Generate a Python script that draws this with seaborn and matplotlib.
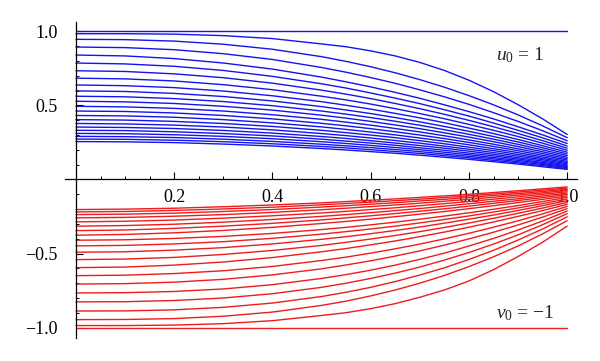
import numpy as np
import pandas as pd
import matplotlib
matplotlib.use("Agg")
import matplotlib.pyplot as plt
import seaborn as sns
from matplotlib.ticker import MultipleLocator, FixedLocator

# x positions where each curve was read
x_grid = [0.0, 0.1, 0.2, 0.3, 0.4, 0.5, 0.55, 0.6, 0.65, 0.7, 0.75, 0.8, 0.85, 0.9, 0.95, 1.0]

# blue family (u): one list per x position, curves top -> bottom (first = constant 1)
u_x000 = [1, .984, .946, .894, .840, .786, .734, .684, .638, .598, .562, .528, .494, .462, .432, .404, .378, .354, .332, .311, .291, .273, .256]
u_x010 = [1, .984, .944, .890, .834, .780, .729, .679, .633, .594, .558, .524, .490, .459, .429, .401, .375, .351, .330, .309, .289, .271, .254]
u_x020 = [1, .981, .934, .876, .816, .764, .713, .665, .620, .581, .546, .513, .480, .449, .420, .392, .367, .344, .322, .302, .283, .265, .249]
u_x030 = [1, .971, .913, .849, .786, .736, .687, .640, .597, .560, .526, .494, .462, .432, .404, .378, .354, .331, .310, .291, .272, .255, .239]
u_x040 = [1, .951, .879, .810, .745, .696, .650, .606, .565, .530, .498, .468, .437, .409, .382, .358, .335, .313, .294, .275, .257, .241, .226]
u_x050 = [1, .915, .829, .756, .691, .646, .603, .562, .525, .492, .462, .434, .406, .379, .355, .332, .310, .290, .272, .255, .238, .223, .209]
u_x055 = [1, .896, .797, .724, .659, .617, .576, .537, .501, .469, .441, .414, .387, .362, .338, .316, .296, .277, .259, .243, .227, .213, .199]
u_x060 = [1, .868, .761, .688, .625, .584, .546, .509, .475, .445, .418, .392, .367, .343, .320, .300, .280, .262, .246, .230, .215, .201, .188]
u_x065 = [1, .834, .720, .649, .588, .549, .513, .478, .446, .418, .393, .368, .344, .322, .301, .282, .263, .246, .231, .216, .202, .189, .177]
u_x070 = [1, .790, .674, .605, .548, .512, .478, .445, .416, .389, .366, .343, .321, .300, .280, .262, .245, .229, .214, .201, .188, .176, .164]
u_x075 = [1, .736, .623, .558, .504, .471, .440, .410, .383, .358, .336, .315, .295, .276, .258, .241, .225, .211, .197, .184, .172, .161, .150]
u_x080 = [1, .670, .566, .507, .458, .428, .399, .372, .347, .325, .305, .286, .267, .250, .234, .218, .204, .191, .178, .167, .156, .146, .136]
u_x085 = [1, .593, .504, .451, .409, .381, .356, .332, .310, .290, .272, .255, .238, .223, .208, .195, .182, .170, .159, .148, .139, .129, .120]
u_x090 = [1, .505, .436, .392, .356, .332, .310, .290, .270, .253, .237, .222, .207, .194, .181, .169, .158, .147, .138, .129, .120, .112, .104]
u_x095 = [1, .409, .362, .329, .301, .281, .262, .245, .228, .214, .200, .187, .175, .163, .152, .142, .133, .124, .115, .108, .101, .093, .086]
u_x100 = [1, .304, .282, .261, .243, .226, .211, .197, .184, .172, .161, .150, .140, .131, .122, .114, .106, .099, .092, .086, .080, .074, .068]

# red family (v): curves top -> bottom (last = constant -1)
v_x000 = [-.203, -.219, -.237, -.259, -.286, -.315, -.345, -.376, -.410, -.448, -.491, -.541, -.595, -.649, -.706, -.766, -.826, -.888, -.946, -.986, -1]
v_x010 = [-.200, -.216, -.234, -.256, -.282, -.311, -.341, -.371, -.407, -.445, -.488, -.537, -.591, -.646, -.703, -.764, -.825, -.887, -.945, -.986, -1]
v_x020 = [-.194, -.209, -.227, -.248, -.274, -.302, -.330, -.360, -.398, -.435, -.477, -.526, -.578, -.635, -.693, -.756, -.817, -.880, -.939, -.983, -1]
v_x030 = [-.184, -.199, -.216, -.237, -.261, -.288, -.315, -.344, -.384, -.420, -.460, -.506, -.557, -.616, -.674, -.739, -.800, -.863, -.923, -.973, -1]
v_x040 = [-.172, -.187, -.203, -.222, -.245, -.270, -.296, -.323, -.364, -.397, -.435, -.479, -.527, -.587, -.644, -.710, -.771, -.834, -.895, -.953, -1]
v_x050 = [-.158, -.171, -.186, -.204, -.226, -.249, -.273, -.297, -.338, -.369, -.404, -.445, -.488, -.547, -.603, -.668, -.728, -.790, -.850, -.918, -1]
v_x055 = [-.149, -.162, -.177, -.194, -.215, -.237, -.259, -.283, -.323, -.352, -.386, -.424, -.466, -.524, -.577, -.642, -.700, -.761, -.821, -.899, -1]
v_x060 = [-.140, -.153, -.167, -.183, -.203, -.224, -.245, -.268, -.306, -.334, -.366, -.402, -.441, -.497, -.549, -.612, -.668, -.728, -.786, -.872, -1]
v_x065 = [-.131, -.143, -.157, -.172, -.191, -.210, -.230, -.251, -.288, -.315, -.344, -.378, -.415, -.468, -.517, -.578, -.632, -.689, -.746, -.838, -1]
v_x070 = [-.121, -.133, -.145, -.160, -.177, -.196, -.214, -.234, -.268, -.293, -.321, -.352, -.386, -.436, -.482, -.539, -.591, -.645, -.700, -.795, -1]
v_x075 = [-.111, -.122, -.134, -.147, -.163, -.180, -.198, -.216, -.247, -.270, -.295, -.324, -.355, -.401, -.443, -.497, -.544, -.596, -.648, -.746, -1]
v_x080 = [-.100, -.110, -.121, -.134, -.149, -.164, -.180, -.197, -.225, -.246, -.268, -.294, -.322, -.363, -.401, -.449, -.493, -.540, -.588, -.685, -1]
v_x085 = [-.088, -.098, -.108, -.120, -.133, -.147, -.161, -.177, -.201, -.220, -.240, -.262, -.287, -.322, -.356, -.398, -.436, -.478, -.522, -.609, -1]
v_x090 = [-.076, -.085, -.095, -.105, -.117, -.130, -.142, -.156, -.176, -.192, -.209, -.228, -.249, -.279, -.307, -.341, -.374, -.409, -.449, -.520, -1]
v_x095 = [-.063, -.072, -.081, -.090, -.100, -.111, -.122, -.134, -.149, -.163, -.177, -.193, -.210, -.232, -.254, -.280, -.305, -.334, -.367, -.423, -1]
v_x100 = [-.050, -.058, -.066, -.074, -.083, -.092, -.101, -.111, -.121, -.132, -.143, -.155, -.168, -.182, -.197, -.213, -.231, -.252, -.278, -.315, -1]

x_ticks = [0.2, 0.4, 0.6, 0.8, 1.0]
x_tick_labels = ["0.2", "0.4", "0.6", "0.8", "1.0"]
y_ticks = [-1.0, -0.5, 0.5, 1.0]
y_tick_labels = ["\u22121.0", "\u22120.5", "0.5", "1.0"]
label_u = "$u_0$ = 1"
label_v = "$v_0$ = \u22121"

u_columns = [u_x000, u_x010, u_x020, u_x030, u_x040, u_x050, u_x055, u_x060,
             u_x065, u_x070, u_x075, u_x080, u_x085, u_x090, u_x095, u_x100]
v_columns = [v_x000, v_x010, v_x020, v_x030, v_x040, v_x050, v_x055, v_x060,
             v_x065, v_x070, v_x075, v_x080, v_x085, v_x090, v_x095, v_x100]


def to_long(columns, name):
    rows = []
    for xi, col in zip(x_grid, columns):
        for k, val in enumerate(col):
            rows.append({"x": xi, "val": val, "curve": f"{name}{k}"})
    return pd.DataFrame(rows)


df_u = to_long(u_columns, "u")
df_v = to_long(v_columns, "v")

sns.set_style("white")
plt.rcParams["font.family"] = ["Liberation Serif", "DejaVu Serif"]
plt.rcParams["mathtext.fontset"] = "custom"
plt.rcParams["mathtext.rm"] = "Liberation Serif"
plt.rcParams["mathtext.it"] = "Liberation Serif:italic"

fig = plt.figure(figsize=(6.0, 3.61), dpi=100)
ax = fig.add_axes([65 / 600, 23 / 361, 512 / 600, 316 / 361])

sns.lineplot(data=df_u, x="x", y="val", units="curve", estimator=None,
             color="#1414ee", lw=1.0, ax=ax, legend=False)
sns.lineplot(data=df_v, x="x", y="val", units="curve", estimator=None,
             color="#ee1c1c", lw=1.0, ax=ax, legend=False)

ax.set_xlim(-0.0224, 1.02)
ax.set_ylim(-1.07, 1.063)
ax.set_xlabel("")
ax.set_ylabel("")

for s in ["top", "right"]:
    ax.spines[s].set_visible(False)
ax.spines["left"].set_position(("data", 0))
ax.spines["bottom"].set_position(("data", 0))
for s in ["left", "bottom"]:
    ax.spines[s].set_color("black")
    ax.spines[s].set_linewidth(0.9)

ax.xaxis.set_major_locator(FixedLocator(x_ticks))
ax.set_xticklabels(x_tick_labels)
ax.xaxis.set_minor_locator(MultipleLocator(0.05))
ax.yaxis.set_major_locator(FixedLocator(y_ticks))
ax.set_yticklabels(y_tick_labels)
ax.yaxis.set_minor_locator(FixedLocator([-0.9, -0.8, -0.7, -0.6, -0.4, -0.3, -0.2, -0.1,
                                         0.1, 0.2, 0.3, 0.4, 0.6, 0.7, 0.8, 0.9]))

ax.tick_params(axis="x", which="both", direction="in", bottom=True, top=False,
               labelsize=13, pad=7, colors="black")
ax.tick_params(axis="y", which="both", direction="in", left=True, right=False,
               labelsize=13, pad=13, colors="black")
ax.tick_params(which="major", length=5, width=0.8)
ax.tick_params(which="minor", length=2.5, width=0.7)
ax.grid(False)

ax.text(0.905, 0.84, label_u, fontsize=14, ha="center", va="center")
ax.text(0.915, -0.905, label_v, fontsize=14, ha="center", va="center")

fig.savefig("out.png", dpi=100)
